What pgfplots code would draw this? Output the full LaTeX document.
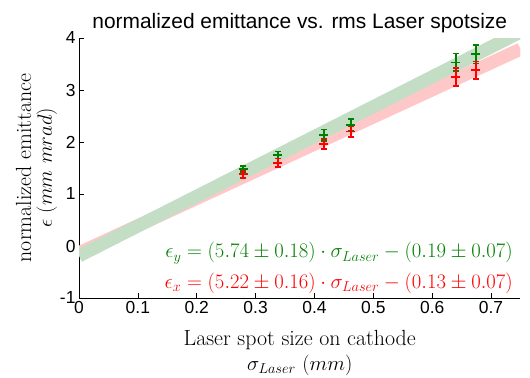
\documentclass[border=0pt]{standalone}
\usepackage{fontspec}
\usepackage{pgfplots}
\pgfplotsset{compat=1.18}
\newfontfamily\hel{Liberation Sans}
\definecolor{mgreen}{rgb}{0,0.5,0}
\definecolor{mred}{rgb}{1,0,0}
\definecolor{bandgreen}{RGB}{195,222,197}
\definecolor{bandred}{RGB}{255,200,200}
\pgfplotsset{
  errgreen/.style={draw=mgreen, color=mgreen, line width=1.7pt, only marks, mark=+, mark size=4.5bp,
    error bars/y dir=both, error bars/y explicit,
    error bars/error mark=-,
    error bars/error mark options={rotate=90, mark size=3bp, line width=1.7pt, draw=mgreen},
    error bars/error bar style={line width=1.7pt, draw=mgreen, solid}},
  errred/.style={draw=mred, color=mred, line width=1.7pt, only marks, mark=+, mark size=4.5bp,
    error bars/y dir=both, error bars/y explicit,
    error bars/error mark=-,
    error bars/error mark options={rotate=90, mark size=3bp, line width=1.7pt, draw=mred},
    error bars/error bar style={line width=1.7pt, draw=mred, solid}},
}
\begin{document}
\begin{tikzpicture}
\begin{axis}[
  at={(0,0)}, anchor=south west,
  scale only axis, width=441.5bp, height=260bp,
  xmin=0, xmax=0.75, ymin=-1, ymax=4,
  axis lines*=left, axis line style={-, line width=0.8pt},
  xtick={0,0.1,...,0.7}, ytick={-1,0,...,4},
  tick align=inside, major tick length=5bp,
  tick style={black, line width=0.6pt},
  /pgf/number format/assume math mode=true,
  xticklabel style={/pgf/number format/fixed, /pgf/number format/precision=1},
  tick label style={font=\hel\fontsize{17.5}{20}\selectfont},
  title={normalized emittance vs. rms Laser spotsize},
  title style={font=\hel\fontsize{21}{24}\selectfont, yshift=-4bp},
  xlabel={Laser spot size on cathode\\$\sigma_{Laser}\ (mm)$},
  xlabel style={align=center, font=\fontsize{22}{25}\selectfont, yshift=-10bp},
  ylabel={normalized emittance\\$\epsilon\ (mm\ mrad)$},
  ylabel style={align=center, font=\fontsize{22}{21}\selectfont, yshift=-4bp},
  clip=true,
]
\addplot[bandred, line width=13bp] coordinates {(0,-0.13) (0.75,3.785)};
\addplot[bandgreen, line width=13bp] coordinates {(0,-0.19) (0.75,4.115)};
\addplot[errgreen]
  coordinates {
  (0.279,1.48) +- (0,0.06)
  (0.338,1.75) +- (0,0.07)
  (0.416,2.13) +- (0,0.11)
  (0.462,2.33) +- (0,0.11)
  (0.640,3.53) +- (0,0.17)
  (0.674,3.69) +- (0,0.18)
  };
\addplot[errred]
  coordinates {
  (0.279,1.38) +- (0,0.07)
  (0.338,1.60) +- (0,0.08)
  (0.416,1.96) +- (0,0.10)
  (0.462,2.20) +- (0,0.11)
  (0.640,3.25) +- (0,0.17)
  (0.674,3.38) +- (0,0.17)
  };
\node[anchor=base east, text=mgreen, font=\fontsize{21}{24}\selectfont, inner sep=0pt] at (axis cs:0.737,-0.23)
  {$\epsilon_y = (5.74 \pm 0.18)\cdot\sigma_{Laser} - (0.19 \pm 0.07)$};
\node[anchor=base east, text=mred, font=\fontsize{21}{24}\selectfont, inner sep=0pt] at (axis cs:0.737,-0.81)
  {$\epsilon_x = (5.22 \pm 0.16)\cdot\sigma_{Laser} - (0.13 \pm 0.07)$};
\end{axis}
\pgfresetboundingbox
\path[use as bounding box] (-79bp,-80bp) rectangle (451bp,298bp);
\end{tikzpicture}
\end{document}
